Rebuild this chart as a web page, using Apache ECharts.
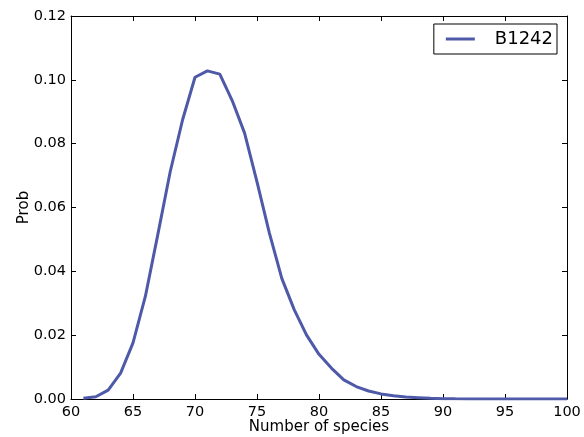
<!DOCTYPE html>
<html><head><meta charset="utf-8">
<script src="https://cdn.jsdelivr.net/npm/echarts@6/dist/echarts.min.js"></script>
<style>html,body{margin:0;padding:0;background:#fff}#c{width:584px;height:437px}</style>
</head><body><div id="c"></div>
<script>
const speciesCounts = [61,62,63,64,65,66,67,68,69,70,71,72,73,74,75,76,77,78,79,80,81,82,83,84,85,86,87,88,89,90,91,92,93,94,95,96,97,98,99,100];
const probB1242 = [0.0002,0.0007,0.0028,0.0081,0.0176,0.0322,0.0515,0.0712,0.0875,0.1008,0.1028,0.1018,0.0935,0.0833,0.0680,0.0520,0.0378,0.0280,0.0200,0.0140,0.0097,0.0060,0.0039,0.0025,0.0016,0.0010,0.0006,0.0004,0.0002,0.0001,0.00005,0.00003,0.00002,0.00001,0,0,0,0,0,0];
const seriesName = 'B1242';
const xTitle = 'Number of species';
const yTitle = 'Prob';

const font = 'DejaVu Sans';
const chart = echarts.init(document.getElementById('c'));
const hidden = {show:false};
chart.setOption({
  animation:false,
  grid:{left:71,top:16,width:496,height:383,containLabel:false,outerBoundsMode:'none'},
  legend:{
    right:27, top:24, orient:'horizontal',
    data:[{name:seriesName, icon:'rect'}],
    itemWidth:29, itemHeight:3, itemGap:10,
    padding:[6,4,6,12],
    borderColor:'#000', borderWidth:1, borderRadius:0,
    textStyle:{fontFamily:font, fontSize:18, color:'#000', padding:[0,0,0,15]}
  },
  xAxis:[{
    type:'value', min:60, max:100, interval:5,
    name:xTitle, nameLocation:'middle', nameGap:21, nameMoveOverlap:false,
    nameTextStyle:{fontFamily:font, fontSize:15, color:'#000'},
    axisLine:{show:true, onZero:false, lineStyle:{color:'#000', width:1}},
    axisTick:{inside:true, length:5, lineStyle:{color:'#000'}},
    axisLabel:{fontFamily:font, fontSize:14.5, color:'#000', margin:6},
    splitLine:hidden
  },{
    type:'value', min:60, max:100, interval:5, position:'top',
    axisLine:{show:true, onZero:false, lineStyle:{color:'#000', width:1}},
    axisTick:{inside:true, length:5, lineStyle:{color:'#000'}},
    axisLabel:hidden, splitLine:hidden
  }],
  yAxis:[{
    type:'value', min:0, max:0.12, interval:0.02,
    name:yTitle, nameLocation:'middle', nameGap:39, nameMoveOverlap:false,
    nameTextStyle:{fontFamily:font, fontSize:15, color:'#000'},
    axisLine:{show:true, onZero:false, lineStyle:{color:'#000', width:1}},
    axisTick:{inside:true, length:5, lineStyle:{color:'#000'}},
    axisLabel:{fontFamily:font, fontSize:14.5, color:'#000', margin:5, formatter:v=>v.toFixed(2)},
    splitLine:hidden
  },{
    type:'value', min:0, max:0.12, interval:0.02, position:'right',
    axisLine:{show:true, onZero:false, lineStyle:{color:'#000', width:1}},
    axisTick:{inside:true, length:5, lineStyle:{color:'#000'}},
    axisLabel:hidden, splitLine:hidden
  }],
  series:[{
    name:seriesName, type:'line',
    data:speciesCounts.map((x,i)=>[x, probB1242[i]]),
    showSymbol:false, symbol:'none',
    lineStyle:{color:'#4e59a8', width:3},
    itemStyle:{color:'#4e59a8'}
  }]
});
</script></body></html>
